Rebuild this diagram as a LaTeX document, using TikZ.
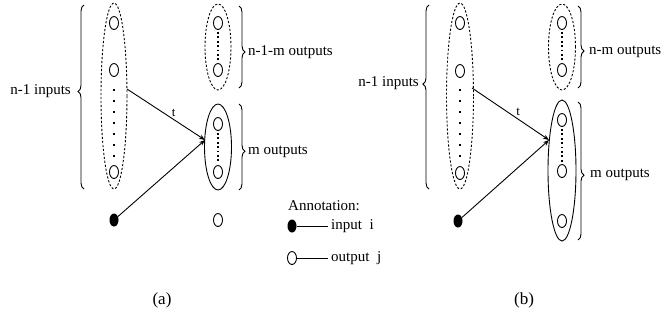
\documentclass[tikz,border=0pt]{standalone}
\usepackage{fontspec}
\setmainfont{Liberation Serif}
\usetikzlibrary{shapes.geometric,decorations.pathreplacing,arrows.meta}
\begin{document}
\begin{tikzpicture}[x=1pt,y=-1pt,
  grp/.style={draw,ellipse,inner sep=0pt,line width=0.9pt},
  dgrp/.style={grp,dash pattern=on 2.2pt off 1.8pt},
  onode/.style={draw,ellipse,minimum width=9pt,minimum height=13pt,inner sep=0pt,line width=0.9pt},
  inode/.style={fill,ellipse,minimum width=9pt,minimum height=13pt,inner sep=0pt},
  vdots/.style={line width=1.7pt,dash pattern=on 1.7pt off 9.3pt},
  hdots/.style={line width=1.7pt,dash pattern=on 1.8pt off 2.6pt},
  lbl/.style={font=\fontsize{15}{17}\selectfont,inner sep=0pt},
  captxt/.style={font=\fontsize{17}{19}\selectfont,inner sep=0pt},
  brc/.style={decorate,line width=0.9pt},
  conn/.style={line width=0.9pt},
  arr/.style={conn,-{Stealth[length=6pt,width=4.5pt]}}]
\useasboundingbox (0,0) rectangle (672,322);

% ---------------- panel (a) ----------------
\node[dgrp,minimum width=26pt,minimum height=186pt] (inA) at (114,96) {};
\node[onode] (inA1) at (114,23) {};
\node[onode] (inA2) at (114,70) {};
\node[onode] (inA3) at (114,172) {};
\coordinate (inAd1) at (114,89);
\coordinate (inAd2) at (114,158);
\draw[vdots] (inAd1) -- (inAd2);

\node[dgrp,minimum width=26pt,minimum height=86pt] (upA) at (218,47) {};
\node[onode] (upA1) at (218,23) {};
\node[onode] (upA2) at (218,70) {};
\draw[hdots] ([yshift=-2pt]upA1.south) -- ([yshift=2pt]upA2.north);

\node[grp,minimum width=27pt,minimum height=86pt] (mA) at (218,147) {};
\node[onode] (mA1) at (218,124) {};
\node[onode] (mA2) at (218,172) {};
\draw[hdots] ([yshift=-2pt]mA1.south) -- ([yshift=2pt]mA2.north);

\node[inode] (iA) at (114,220) {};
\node[onode] (oA) at (218,220) {};

\coordinate (sA) at (127,89);
\coordinate (tA) at (205,140);
\draw[arr] (sA) -- node[lbl,pos=0.6,above=3pt,font=\fontsize{13}{15}\selectfont] (tlA) {t} (tA);
\draw[arr] (iA) -- (tA);

\coordinate (bA1) at (84,189);
\coordinate (bA2) at (84,5);
\draw[brc,decoration={brace,amplitude=6pt,aspect=0.53}] (bA1) -- (bA2);
\node[lbl,anchor=east] (nA) at (71,91) {n-1 inputs};

\coordinate (bA3) at (239,6);
\coordinate (bA4) at (239,88);
\draw[brc,decoration={brace,amplitude=6pt,aspect=0.56}] (bA3) -- (bA4);
\node[lbl,anchor=west] (uA) at (248,52) {n-1-m outputs};

\coordinate (bA5) at (239,104);
\coordinate (bA6) at (239,190);
\draw[brc,decoration={brace,amplitude=6pt,aspect=0.55}] (bA5) -- (bA6);
\node[lbl,anchor=west] (mlA) at (248,152) {m outputs};

\node[captxt] (capA) at (162,300) {(a)};

% ---------------- annotation ----------------
\node[lbl,anchor=west] (ann) at (288,206) {Annotation:};
\node[inode] (li) at (292,226) {};
\coordinate (li2) at (328,226);
\draw[conn,line width=0.6pt] (li) -- (li2);
\node[lbl,anchor=west] (lit) at (331,226) {input\ \ i};
\node[onode] (lo) at (292,258) {};
\coordinate (lo2) at (328,258);
\draw[conn,line width=0.6pt] (lo) -- (lo2);
\node[lbl,anchor=west] (lot) at (331,258) {output\ \ j};

% ---------------- panel (b) ----------------
\node[dgrp,minimum width=27pt,minimum height=186pt] (inB) at (460,96) {};
\node[onode] (inB1) at (460,23) {};
\node[onode] (inB2) at (460,71) {};
\node[onode] (inB3) at (460,173) {};
\coordinate (inBd1) at (460,89);
\coordinate (inBd2) at (460,158);
\draw[vdots] (inBd1) -- (inBd2);

\node[dgrp,minimum width=27pt,minimum height=86pt] (upB) at (562,47) {};
\node[onode] (upB1) at (562,23) {};
\node[onode] (upB2) at (562,70) {};
\draw[hdots] ([yshift=-2pt]upB1.south) -- ([yshift=2pt]upB2.north);

\node[grp,minimum width=28pt,minimum height=141pt] (mB) at (562,170.5) {};
\node[onode] (mB1) at (562,120) {};
\node[onode] (mB2) at (562,171) {};
\node[onode] (mB3) at (562,221) {};
\draw[hdots] ([yshift=-2pt]mB1.south) -- ([yshift=2pt]mB2.north);

\node[inode] (iB) at (458,221) {};

\coordinate (sB) at (472,88);
\coordinate (tB) at (549,140);
\draw[arr] (sB) -- node[lbl,pos=0.6,above=3pt,font=\fontsize{13}{15}\selectfont] (tlB) {t} (tB);
\draw[arr] (iB) -- (tB);

\coordinate (bB1) at (429,189);
\coordinate (bB2) at (429,5);
\draw[brc,decoration={brace,amplitude=6pt,aspect=0.57}] (bB1) -- (bB2);
\node[lbl,anchor=east] (nB) at (419,83) {n-1 inputs};

\coordinate (bB3) at (578,6);
\coordinate (bB4) at (578,88);
\draw[brc,decoration={brace,amplitude=6pt,aspect=0.55}] (bB3) -- (bB4);
\node[lbl,anchor=west] (uB) at (589,52) {n-m outputs};

\coordinate (bB5) at (578,102);
\coordinate (bB6) at (578,240);
\draw[brc,decoration={brace,amplitude=6pt,aspect=0.53}] (bB5) -- (bB6);
\node[lbl,anchor=west] (mlB) at (590,175) {m outputs};

\node[captxt] (capB) at (524,300) {(b)};
\end{tikzpicture}
\end{document}
